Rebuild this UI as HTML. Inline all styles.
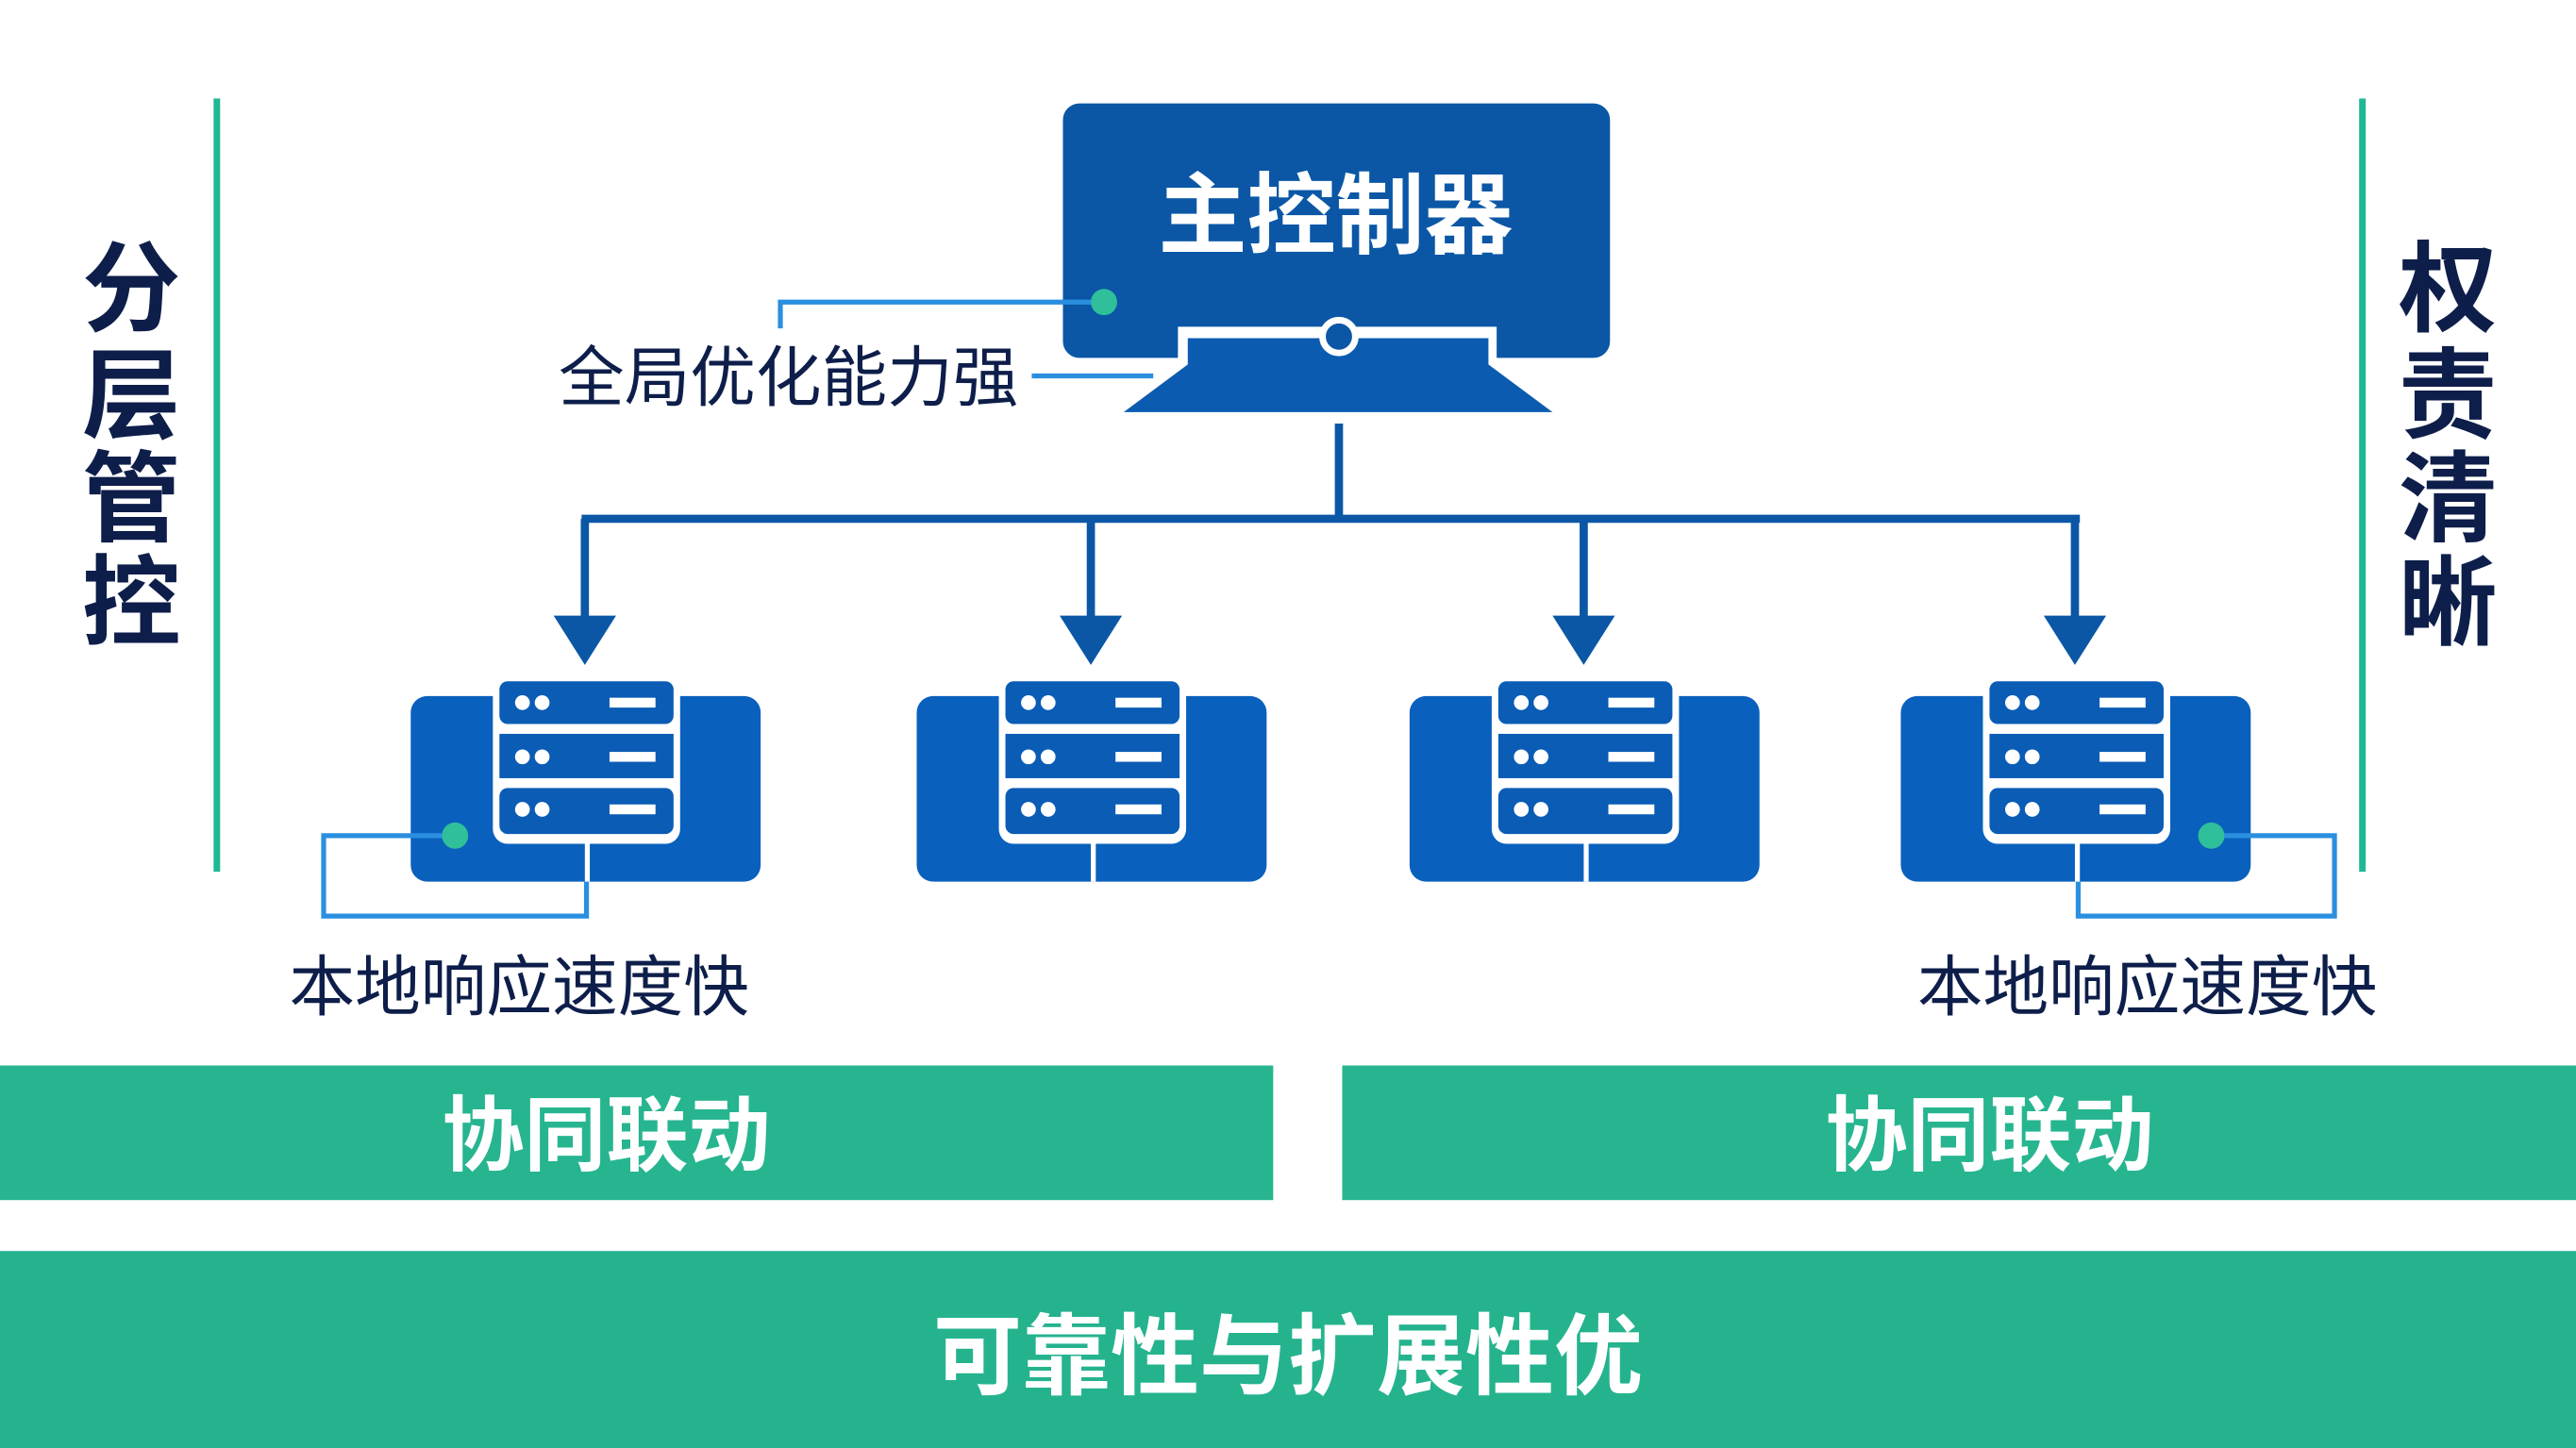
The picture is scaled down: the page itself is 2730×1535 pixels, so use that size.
<!DOCTYPE html>
<html><head><meta charset="utf-8">
<style>
html,body{margin:0;padding:0;background:#fff;}
svg{display:block;}
text{font-family:"Liberation Sans","Noto Sans CJK SC",sans-serif;}
</style></head>
<body>
<svg width="2730" height="1535" viewBox="0 0 1568 882" preserveAspectRatio="none" xmlns="http://www.w3.org/2000/svg">
<rect x="0" y="0" width="1568" height="882" fill="#ffffff"/>
<!-- side lines -->
<rect x="130" y="60" width="4" height="471" fill="#1fb894"/>
<rect x="1436" y="60" width="4" height="471" fill="#1fb894"/>
<g fill="#0e1e4a" font-weight="bold" font-size="60" text-anchor="middle">
<text x="80" y="197">分</text><text x="80" y="262">层</text><text x="80" y="325">管</text><text x="80" y="388">控</text>
<text x="1490" y="197">权</text><text x="1490" y="262">责</text><text x="1490" y="325">清</text><text x="1490" y="388">晰</text>
</g>
<!-- controller -->
<rect x="647" y="63" width="333" height="155" rx="10" fill="#0b57a6"/>
<text x="813" y="150" fill="#fff" font-size="54" font-weight="bold" text-anchor="middle">主控制器</text>
<polygon points="717,199 911,199 911,218 945,251 684,251 717,218" fill="#fff"/>
<polygon points="723,206 906,206 906,222 945,251 684,251 723,222" fill="#0b5cb0"/>
<circle cx="815" cy="205" r="10" fill="#0b57a6" stroke="#fff" stroke-width="4"/>
<!-- callout -->
<polyline points="672,184 475,184 475,200" fill="none" stroke="#2b8fe0" stroke-width="3"/>
<circle cx="672" cy="184" r="8" fill="#2fbf9a"/>
<line x1="628" y1="229" x2="702" y2="229" stroke="#2b8fe0" stroke-width="3"/>
<text x="480" y="244" fill="#0e1e4a" font-size="40" text-anchor="middle">全局优化能力强</text>
<!-- tree -->
<g stroke="#0b57a6" stroke-width="5" fill="none">
<line x1="815" y1="258" x2="815" y2="318"/>
<line x1="354" y1="316" x2="1266" y2="316"/>
<line x1="356" y1="316" x2="356" y2="378"/>
<line x1="664" y1="316" x2="664" y2="378"/>
<line x1="964" y1="316" x2="964" y2="378"/>
<line x1="1263" y1="316" x2="1263" y2="378"/>
</g>
<g fill="#0b57a6">
<polygon points="337,375 375,375 356,405"/>
<polygon points="645,375 683,375 664,405"/>
<polygon points="945,375 983,375 964,405"/>
<polygon points="1244,375 1282,375 1263,405"/>
</g>
<!-- servers -->
<defs>
<g id="srv">
<rect x="-106" y="424" width="213" height="113" rx="10" fill="#0a60bd"/>
<rect x="-56" y="410" width="114" height="104" rx="9" fill="#fff"/>
<rect x="-52" y="415" width="106" height="26" rx="5" fill="#0a5cb5"/>
<rect x="-52" y="447" width="106" height="27" fill="#0a5cb5"/>
<rect x="-52" y="480" width="106" height="28" rx="5" fill="#0a5cb5"/>
<g fill="#fff">
<circle cx="-38" cy="428" r="4.5"/><circle cx="-26" cy="428" r="4.5"/>
<circle cx="-38" cy="461" r="4.5"/><circle cx="-26" cy="461" r="4.5"/>
<circle cx="-38" cy="493" r="4.5"/><circle cx="-26" cy="493" r="4.5"/>
<rect x="15" y="425" width="28" height="6"/>
<rect x="15" y="458" width="28" height="6"/>
<rect x="15" y="490" width="28" height="6"/>
<rect x="0" y="512" width="3" height="25"/>
</g>
</g>
</defs>
<use href="#srv" x="356"/>
<use href="#srv" x="664"/>
<use href="#srv" x="964"/>
<use href="#srv" x="1263"/>
<!-- loops -->
<polyline points="277,509 197,509 197,558 357,558 357,537" fill="none" stroke="#2b8fe0" stroke-width="3"/>
<circle cx="277" cy="509" r="8" fill="#2fbf9a"/>
<polyline points="1346,509 1421,509 1421,558 1265,558 1265,537" fill="none" stroke="#2b8fe0" stroke-width="3"/>
<circle cx="1346" cy="509" r="8" fill="#2fbf9a"/>
<g fill="#0e1e4a" font-size="40" text-anchor="middle">
<text x="316" y="615">本地响应速度快</text>
<text x="1307" y="615">本地响应速度快</text>
</g>
<!-- bars -->
<rect x="0" y="649" width="775" height="82" fill="#27b590"/>
<rect x="817" y="649" width="751" height="82" fill="#27b590"/>
<rect x="0" y="762" width="1568" height="120" fill="#25b38e"/>
<g fill="#fff" font-weight="bold" text-anchor="middle">
<text x="369" y="709" font-size="50">协同联动</text>
<text x="1211" y="709" font-size="50">协同联动</text>
<text x="784" y="845" font-size="54">可靠性与扩展性优</text>
</g>
</svg>
</body></html>
